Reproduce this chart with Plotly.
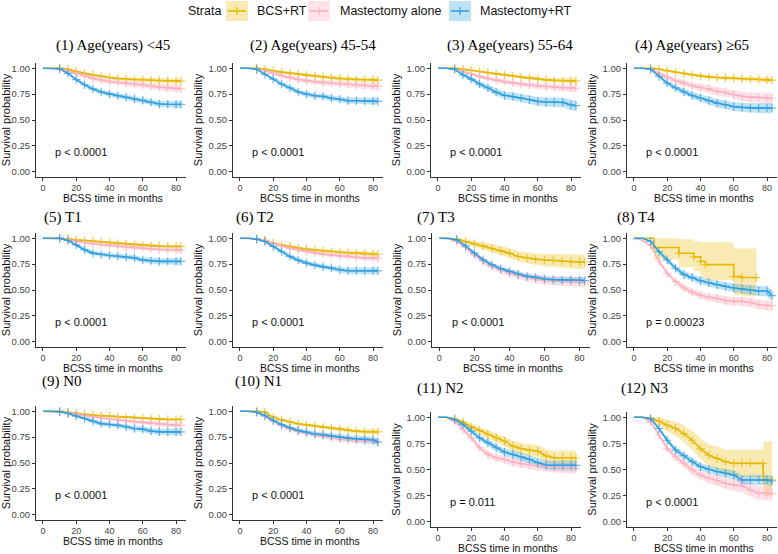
import plotly.graph_objects as go

W, H = 778, 554

# ---------------- data ----------------
TIME = [0, 5, 10, 15, 20, 25, 30, 35, 40, 45, 50, 55, 60, 65, 70, 75, 80, 83]

STRATA = ["BCS+RT", "Mastectomy alone", "Mastectomy+RT"]
TITLES = ["(1) Age(years) <45", "(2) Age(years) 45-54", "(3) Age(years) 55-64", "(4) Age(years) ≥65",
          "(5) T1", "(6) T2", "(7) T3", "(8) T4",
          "(9) N0", "(10) N1", "(11) N2", "(12) N3"]
PVALS = ["p < 0.0001", "p < 0.0001", "p < 0.0001", "p < 0.0001",
         "p < 0.0001", "p < 0.0001", "p < 0.0001", "p = 0.00023",
         "p < 0.0001", "p < 0.0001", "p = 0.011", "p < 0.0001"]
X_TITLE = "BCSS time in months"
Y_TITLE = "Survival probability"
X_TICKS = [0, 20, 40, 60, 80]
Y_TICKS = [0, 0.25, 0.5, 0.75, 1.0]

BCS_RT = [
    [1, 1, 1, .99, .968, .95, .936, .92, .91, .90, .894, .89, .888, .884, .88, .879, .878, .875],
    [1, 1, 1, .99, .974, .962, .952, .942, .933, .925, .917, .908, .90, .895, .89, .889, .888, .885],
    [1, 1, 1, .99, .978, .968, .958, .947, .936, .925, .914, .904, .895, .888, .882, .88, .879, .877],
    [1, 1, 1, .99, .974, .962, .949, .936, .923, .916, .91, .907, .904, .899, .894, .891, .888, .885],
    [1, 1, 1, .995, .984, .978, .971, .963, .955, .948, .942, .936, .93, .926, .923, .921, .92, .92],
    [1, 1, .995, .978, .952, .935, .92, .906, .894, .886, .878, .87, .862, .859, .856, .85, .846, .845],
    [1, 1, .99, .968, .946, .926, .904, .88, .856, .824, .808, .798, .79, .785, .776, .77, .77, .77],
    None,
    [1, 1, 1, .99, .978, .97, .962, .957, .952, .946, .94, .935, .93, .927, .923, .921, .92, .92],
    [1, 1, 1, .99, .942, .916, .894, .878, .868, .858, .846, .836, .83, .814, .807, .803, .80, .80],
    [1, 1, .984, .952, .908, .873, .835, .803, .77, .724, .70, .686, .676, .63, .613, .613, .613, .61],
    None,
]
MAST_ALONE = [
    [1, 1, .99, .975, .95, .925, .90, .885, .87, .862, .855, .848, .84, .828, .817, .812, .807, .80],
    [1, 1, .99, .975, .952, .928, .907, .892, .878, .87, .862, .856, .85, .843, .837, .832, .827, .825],
    [1, 1, .99, .97, .943, .92, .90, .885, .87, .858, .847, .838, .83, .822, .815, .812, .81, .805],
    [1, 1, .99, .95, .91, .878, .856, .83, .814, .80, .776, .766, .744, .728, .718, .718, .71, .71],
    [1, 1, .995, .985, .968, .957, .946, .938, .93, .921, .913, .908, .904, .897, .89, .889, .888, .885],
    [1, 1, .99, .975, .949, .925, .904, .887, .872, .858, .846, .838, .83, .822, .814, .81, .808, .805],
    [1, .995, .968, .91, .84, .776, .728, .695, .663, .641, .622, .606, .593, .59, .583, .58, .577, .575],
    [1, .98, .93, .78, .66, .58, .52, .48, .45, .43, .42, .40, .39, .39, .38, .36, .35, .35],
    [1, 1, .995, .985, .97, .958, .946, .934, .923, .915, .907, .898, .89, .882, .875, .87, .865, .865],
    [1, 1, .99, .95, .905, .862, .83, .807, .788, .775, .76, .75, .733, .723, .717, .713, .71, .71],
    [1, 1, .962, .883, .803, .708, .644, .613, .597, .571, .555, .543, .533, .524, .517, .515, .514, .51],
    [1, 1, .956, .83, .70, .622, .559, .495, .448, .416, .394, .368, .352, .346, .305, .273, .273, .27],
]
MAST_RT = [
    [1, 1, .995, .95, .89, .84, .80, .77, .75, .735, .72, .705, .69, .67, .655, .652, .65, .65],
    [1, 1, .99, .94, .895, .846, .81, .77, .75, .734, .728, .71, .70, .686, .686, .684, .683, .68],
    [1, 1, .99, .936, .895, .847, .81, .767, .738, .728, .712, .696, .68, .674, .674, .67, .645, .638],
    [1, 1, .99, .92, .856, .81, .77, .737, .712, .686, .663, .647, .63, .622, .615, .615, .615, .615],
    [1, 1, 1, .978, .936, .888, .856, .843, .833, .825, .817, .81, .79, .78, .776, .776, .776, .776],
    [1, 1, .99, .968, .92, .869, .824, .788, .76, .74, .724, .712, .696, .686, .686, .686, .686, .685],
    [1, 1, .984, .926, .856, .792, .744, .705, .68, .654, .631, .622, .606, .60, .596, .596, .596, .59],
    [1, 1, .97, .87, .79, .71, .65, .62, .59, .57, .55, .535, .52, .51, .50, .49, .49, .445],
    [1, .995, .995, .978, .952, .93, .904, .88, .872, .865, .85, .833, .827, .808, .80, .80, .80, .80],
    [1, 1, .99, .958, .91, .87, .84, .814, .797, .78, .772, .76, .75, .74, .733, .728, .723, .70],
    [1, 1, .978, .93, .867, .803, .756, .708, .667, .644, .62, .597, .565, .543, .54, .54, .54, .54],
    [1, 1, .987, .892, .78, .686, .632, .575, .527, .50, .48, .464, .448, .40, .40, .40, .40, .39],
]

# confidence-interval half widths
CI_XS = [0, 0, 0, .003, .005, .006, .007, .008, .009, .01, .011, .011, .012, .012, .013, .013, .014, .015]
CI_S = [0, 0, .003, .006, .009, .011, .013, .014, .015, .016, .017, .018, .019, .02, .021, .022, .023, .025]
CI_M = [0, 0, .004, .01, .015, .018, .02, .022, .023, .024, .025, .026, .027, .028, .03, .031, .032, .034]
CI_L = [0, .003, .01, .018, .024, .028, .031, .033, .035, .037, .039, .04, .042, .044, .046, .048, .05, .052]
CI_XL = [0, .005, .012, .022, .03, .036, .04, .044, .047, .05, .053, .056, .06, .063, .066, .068, .07, .072]

BCS_RT_CI = [CI_S, CI_S, CI_S, CI_S, CI_XS, CI_S, CI_XL, None, CI_XS, CI_S, CI_XL, None]
MAST_ALONE_CI = [CI_M, CI_M, CI_M, CI_L, CI_S, CI_S, CI_L, CI_L, CI_S, CI_M, CI_L, CI_XL]
MAST_RT_CI = [CI_M, CI_M, CI_L, CI_L, CI_M, CI_M, CI_M, CI_L, CI_M, CI_M, CI_L, CI_L]

# small groups with their own event times and bounds
P8_BCS_TIME = [0, 12, 27, 36, 40, 43, 60, 65, 73.6]
P8_BCS = [1, .91, .855, .82, .775, .745, .63, .62, .62]
P8_BCS_LO = [1, .80, .72, .68, .62, .60, .45, .44, .44]
P8_BCS_HI = [1, 1, .99, .97, .96, .96, .90, .90, .90]

P12_BCS_TIME = [0, 5, 10, 15, 20, 25, 30, 35, 40, 45, 50, 55, 60, 65, 70, 77.5, 78, 83]
P12_BCS = [1, 1, .987, .962, .924, .892, .844, .78, .70, .637, .606, .575, .559, .559, .559, .559, .40, .40]
P12_BCS_LO = [1, 1, .96, .92, .86, .82, .76, .69, .60, .53, .50, .46, .43, .42, .42, .42, .25, .25]
P12_BCS_HI = [1, 1, 1, 1, .98, .96, .92, .87, .80, .74, .72, .69, .69, .69, .69, .69, .77, .77]

# ---------------- style / layout ----------------
COLORS = ["#E7B800", "#FFB0C0", "#2E9FDF"]
FILLS = ["rgba(231,184,0,0.3)", "rgba(255,176,192,0.35)", "rgba(46,159,223,0.3)"]

COL_X = [(36, 186), (233, 383), (431, 581), (627, 777)]
ROW_Y = [[(63, 177)] * 4, [(233, 347)] * 4, [(406, 520), (406, 520), (412, 527), (412, 527)]]
TITLE_X = [54, 248, 445, 633, 42, 234, 415, 615, 40, 233, 415, 619]
TITLE_Y = [45, 45, 45, 45, 217, 217, 217, 217, 381, 381, 388, 388]

SANS = "Liberation Sans, Arial, sans-serif"
SERIF = "Liberation Serif, Times New Roman, serif"

fig = go.Figure()


def series(i):
    out = []
    for k, (vals, cis) in enumerate(((BCS_RT, BCS_RT_CI), (MAST_ALONE, MAST_ALONE_CI), (MAST_RT, MAST_RT_CI))):
        if k == 0 and i == 7:
            out.append((P8_BCS_TIME, P8_BCS, P8_BCS_LO, P8_BCS_HI, "hv"))
        elif k == 0 and i == 11:
            out.append((P12_BCS_TIME, P12_BCS, P12_BCS_LO, P12_BCS_HI, "linear"))
        else:
            v = vals[i]
            c = cis[i]
            lo = [max(0, a - b) for a, b in zip(v, c)]
            hi = [min(1, a + b) for a, b in zip(v, c)]
            out.append((TIME, v, lo, hi, "linear"))
    return out


for i in range(12):
    r, c = divmod(i, 4)
    xa = "x" if i == 0 else f"x{i+1}"
    ya = "y" if i == 0 else f"y{i+1}"
    ser = series(i)
    # bands first
    for k, (t, v, lo, hi, shape) in enumerate(ser):
        fig.add_trace(go.Scatter(x=t, y=hi, mode="lines", line=dict(width=0, shape=shape),
                                 xaxis=xa, yaxis=ya, showlegend=False, hoverinfo="skip"))
        fig.add_trace(go.Scatter(x=t, y=lo, mode="lines", line=dict(width=0, shape=shape),
                                 fill="tonexty", fillcolor=FILLS[k],
                                 xaxis=xa, yaxis=ya, showlegend=False, hoverinfo="skip"))
    for k, (t, v, lo, hi, shape) in enumerate(ser):
        sizes = [0 if tt < 8 else 6 for tt in t]
        fig.add_trace(go.Scatter(x=t, y=v, mode="lines+markers", name=STRATA[k],
                                 line=dict(color=COLORS[k], width=1.6, shape=shape),
                                 marker=dict(symbol="cross-thin", size=sizes,
                                             line=dict(color=COLORS[k], width=1.2)),
                                 xaxis=xa, yaxis=ya, showlegend=False))

    x0, x1 = COL_X[c]
    if i == 6:
        x0, x1 = 432, 590
    y0, y1 = ROW_Y[r][c]
    xkey = "xaxis" if i == 0 else f"xaxis{i+1}"
    ykey = "yaxis" if i == 0 else f"yaxis{i+1}"
    fig.layout[xkey] = dict(
        domain=[x0 / W, x1 / W], anchor=ya, range=[-4.2, 86],
        tickvals=X_TICKS, ticks="outside", ticklen=2.5, tickcolor="#333", tickwidth=1,
        showline=True, linecolor="#333", linewidth=1, showgrid=False, zeroline=False,
        tickfont=dict(family=SANS, size=9, color="#444"),
        fixedrange=True)
    fig.layout[ykey] = dict(
        domain=[1 - y1 / H, 1 - y0 / H], anchor=xa, range=[-0.05, 1.05],
        tickvals=Y_TICKS, tickformat=".2f", ticks="outside", ticklen=3, tickcolor="#333", tickwidth=1,
        showline=True, linecolor="#333", linewidth=1, showgrid=False, zeroline=False,
        tickfont=dict(family=SANS, size=9.5, color="#444"),
        title=dict(text=Y_TITLE, font=dict(family=SANS, size=11, color="#111"), standoff=3),
        fixedrange=True)

    # x-axis title placed just under the tick labels
    fig.add_annotation(x=(x0 + x1) / 2 / W + 2 / W, y=1 - (y1 + 21) / H, xref="paper", yref="paper",
                       text=X_TITLE, showarrow=False, xanchor="center", yanchor="middle",
                       font=dict(family=SANS, size=10.5, color="#111"))
    fig.add_annotation(x=6, y=0.19, xref=xa, yref=ya, text=PVALS[i], showarrow=False,
                       xanchor="left", yanchor="middle", font=dict(family=SANS, size=11, color="#111"))
    fig.add_annotation(x=TITLE_X[i] / W, y=1 - TITLE_Y[i] / H, xref="paper", yref="paper",
                       text=TITLES[i], showarrow=False, xanchor="left", yanchor="middle",
                       font=dict(family=SERIF, size=15, color="#000"))

# ---------------- legend (drawn) ----------------
fig.add_annotation(x=186 / W, y=1 - 11 / H, xref="paper", yref="paper", text="Strata", showarrow=False,
                   xanchor="left", yanchor="middle", font=dict(family=SANS, size=12.5, color="#111"))
LEG_BOX = [226, 308, 449]
LEG_TXT = [255, 338, 478]
for k in range(3):
    bx = LEG_BOX[k]
    fig.add_shape(type="rect", xref="paper", yref="paper", x0=bx / W, x1=(bx + 22) / W,
                  y0=1 - 21 / H, y1=1 - 1 / H, fillcolor=FILLS[k], line=dict(width=0), layer="above")
    fig.add_shape(type="line", xref="paper", yref="paper", x0=(bx + 2) / W, x1=(bx + 20) / W,
                  y0=1 - 11 / H, y1=1 - 11 / H, line=dict(color=COLORS[k], width=1.6), layer="above")
    fig.add_shape(type="line", xref="paper", yref="paper", x0=(bx + 11) / W, x1=(bx + 11) / W,
                  y0=1 - 7 / H, y1=1 - 15 / H, line=dict(color=COLORS[k], width=1.2), layer="above")
    fig.add_annotation(x=LEG_TXT[k] / W, y=1 - 11 / H, xref="paper", yref="paper", text=STRATA[k],
                       showarrow=False, xanchor="left", yanchor="middle",
                       font=dict(family=SANS, size=12.5, color="#111"))

fig.update_layout(width=W, height=H, margin=dict(l=0, r=0, t=0, b=0),
                  paper_bgcolor="white", plot_bgcolor="white", showlegend=False)

fig.write_html("out.html", config={"displayModeBar": False},
               post_script="document.body.style.margin='0px';document.body.style.overflow='hidden';")
